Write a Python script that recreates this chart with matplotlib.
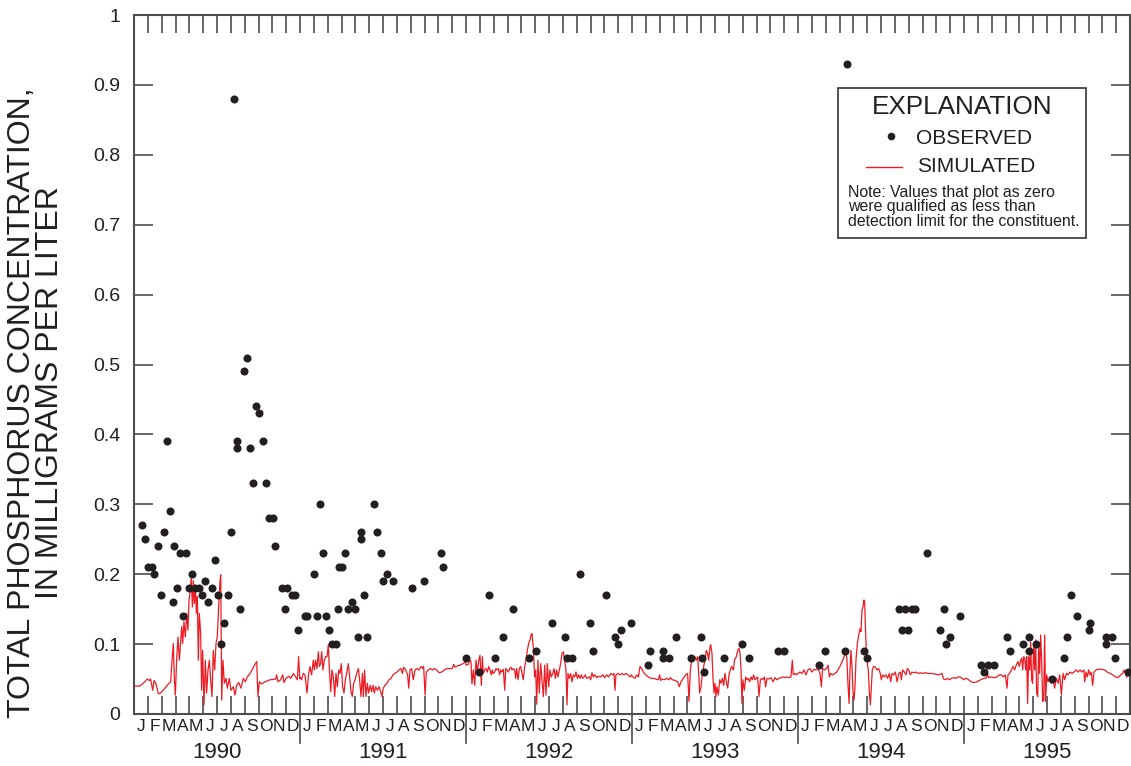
import numpy as np
import matplotlib
matplotlib.use('Agg')
import matplotlib.pyplot as plt
from matplotlib.patches import Rectangle
from matplotlib.lines import Line2D

plt.rcParams['font.family'] = ['Liberation Sans', 'DejaVu Sans']

# axis labels
years = [1990, 1991, 1992, 1993, 1994, 1995]
month_letters = ['J', 'F', 'M', 'A', 'M', 'J', 'J', 'A', 'S', 'O', 'N', 'D']
y_ticks = [0, 0.1, 0.2, 0.3, 0.4, 0.5, 0.6, 0.7, 0.8, 0.9, 1.0]
y_tick_labels = ['0', '0.1', '0.2', '0.3', '0.4', '0.5', '0.6', '0.7', '0.8', '0.9', '1']

# observed samples (decimal year, mg/L)
obs_year = [
    1990.046, 1990.066, 1990.086, 1990.107, 1990.120, 1990.143, 1990.161, 1990.181,
    1990.201, 1990.219, 1990.233, 1990.239, 1990.257, 1990.277, 1990.297, 1990.315,
    1990.333, 1990.349, 1990.367, 1990.393, 1990.411, 1990.430, 1990.448, 1990.470,
    1990.488, 1990.506, 1990.524, 1990.542, 1990.564, 1990.584, 1990.602, 1990.619,
    1990.621, 1990.640, 1990.660, 1990.679, 1990.699, 1990.717, 1990.735, 1990.755,
    1990.775, 1990.793, 1990.815, 1990.836, 1990.851, 1990.890, 1990.910, 1990.923,
    1990.950, 1990.970, 1990.986,
    1991.030, 1991.044, 1991.083, 1991.101, 1991.120, 1991.137, 1991.157, 1991.177,
    1991.195, 1991.215, 1991.231, 1991.233, 1991.255, 1991.273, 1991.291, 1991.311,
    1991.331, 1991.347, 1991.367, 1991.369, 1991.387, 1991.405, 1991.446, 1991.464,
    1991.486, 1991.502, 1991.522, 1991.558, 1991.675, 1991.745, 1991.848, 1991.863,
    1991.998,
    1992.078, 1992.137, 1992.175, 1992.225, 1992.283, 1992.380, 1992.422, 1992.516,
    1992.596, 1992.610, 1992.637, 1992.687, 1992.745, 1992.763, 1992.842, 1992.899,
    1992.917, 1992.936, 1992.996,
    1993.095, 1993.110, 1993.185, 1993.187, 1993.225, 1993.265, 1993.357, 1993.416,
    1993.420, 1993.434, 1993.554, 1993.664, 1993.707, 1993.878, 1993.917,
    1994.127, 1994.164, 1994.281, 1994.295, 1994.396, 1994.417, 1994.607, 1994.627,
    1994.646, 1994.664, 1994.687, 1994.707, 1994.777, 1994.857, 1994.878, 1994.893,
    1994.916, 1994.973,
    1995.104, 1995.120, 1995.145, 1995.181, 1995.259, 1995.279, 1995.355, 1995.390,
    1995.393, 1995.432, 1995.528, 1995.602, 1995.619, 1995.643, 1995.681, 1995.755,
    1995.759, 1995.854, 1995.855, 1995.890, 1995.910, 1995.988,
]
obs_value = [
    0.27, 0.25, 0.21, 0.21, 0.20, 0.24, 0.17, 0.26,
    0.39, 0.29, 0.16, 0.24, 0.18, 0.23, 0.14, 0.23,
    0.18, 0.20, 0.18, 0.18, 0.17, 0.19, 0.16, 0.18,
    0.22, 0.17, 0.10, 0.13, 0.17, 0.26, 0.88, 0.39,
    0.38, 0.15, 0.49, 0.51, 0.38, 0.33, 0.44, 0.43,
    0.39, 0.33, 0.28, 0.28, 0.24, 0.18, 0.15, 0.18,
    0.17, 0.17, 0.12,
    0.14, 0.14, 0.20, 0.14, 0.30, 0.23, 0.14, 0.12,
    0.10, 0.10, 0.15, 0.21, 0.21, 0.23, 0.15, 0.16,
    0.15, 0.11, 0.26, 0.25, 0.17, 0.11, 0.30, 0.26,
    0.23, 0.19, 0.20, 0.19, 0.18, 0.19, 0.23, 0.21,
    0.08,
    0.06, 0.17, 0.08, 0.11, 0.15, 0.08, 0.09, 0.13,
    0.11, 0.08, 0.08, 0.20, 0.13, 0.09, 0.17, 0.11,
    0.10, 0.12, 0.13,
    0.07, 0.09, 0.08, 0.09, 0.08, 0.11, 0.08, 0.11,
    0.08, 0.06, 0.08, 0.10, 0.08, 0.09, 0.09,
    0.07, 0.09, 0.09, 0.93, 0.09, 0.08, 0.15, 0.12,
    0.15, 0.12, 0.15, 0.15, 0.23, 0.12, 0.15, 0.10,
    0.11, 0.14,
    0.07, 0.06, 0.07, 0.07, 0.11, 0.09, 0.10, 0.09,
    0.11, 0.10, 0.05, 0.08, 0.11, 0.17, 0.14, 0.12,
    0.13, 0.11, 0.10, 0.11, 0.08, 0.06,
]

# simulated daily concentration, (month of year, mg/L) per year
sim_1990 = [
    (0.00, 0.040), (0.43, 0.040), (0.72, 0.045), (0.96, 0.050), (1.11, 0.048), (1.20, 0.050),
    (1.35, 0.034), (1.45, 0.048), (1.59, 0.043), (1.76, 0.029), (1.93, 0.030), (2.24, 0.037),
    (2.48, 0.043), (2.65, 0.046), (2.75, 0.077), (2.84, 0.101), (2.92, 0.049), (2.99, 0.027),
    (3.08, 0.077), (3.18, 0.110), (3.28, 0.077), (3.35, 0.096), (3.45, 0.125), (3.52, 0.101),
    (3.61, 0.132), (3.71, 0.110), (3.81, 0.144), (3.90, 0.120), (3.98, 0.163), (4.07, 0.177),
    (4.14, 0.196), (4.22, 0.153), (4.29, 0.191), (4.36, 0.158), (4.43, 0.184), (4.51, 0.144),
    (4.58, 0.168), (4.65, 0.077), (4.72, 0.144), (4.82, 0.115), (4.89, 0.034), (4.96, 0.091),
    (5.06, 0.013), (5.16, 0.077), (5.25, 0.030), (5.35, 0.063), (5.45, 0.077), (5.54, 0.049),
    (5.64, 0.025), (5.73, 0.091), (5.83, 0.063), (5.93, 0.101), (6.02, 0.110), (6.12, 0.153),
    (6.22, 0.191), (6.27, 0.199), (6.34, 0.020), (6.43, 0.077), (6.53, 0.044), (6.65, 0.051),
    (6.75, 0.037), (6.89, 0.051), (7.01, 0.034), (7.18, 0.039), (7.30, 0.027), (7.42, 0.041),
    (7.57, 0.045), (7.73, 0.037), (7.90, 0.051), (8.05, 0.046), (8.19, 0.053), (8.39, 0.058),
    (8.58, 0.065), (8.77, 0.072), (8.87, 0.075), (8.96, 0.025), (9.06, 0.046), (9.23, 0.043),
    (9.47, 0.046), (9.83, 0.049), (10.24, 0.050), (10.31, 0.056), (10.41, 0.046), (10.60, 0.049),
    (10.75, 0.056), (10.84, 0.045), (10.99, 0.051), (11.18, 0.054), (11.33, 0.051), (11.52, 0.058),
    (11.69, 0.053), (11.81, 0.049), (11.90, 0.082), (11.98, 0.051),
]
sim_1991 = [
    (0.00, 0.053), (0.12, 0.049), (0.24, 0.058), (0.36, 0.056), (0.51, 0.030), (0.60, 0.053),
    (0.72, 0.068), (0.84, 0.056), (0.96, 0.077), (1.04, 0.063), (1.13, 0.077), (1.23, 0.065),
    (1.33, 0.089), (1.40, 0.068), (1.49, 0.072), (1.57, 0.089), (1.66, 0.063), (1.76, 0.077),
    (1.86, 0.082), (1.95, 0.082), (2.05, 0.099), (2.12, 0.065), (2.22, 0.032), (2.31, 0.063),
    (2.41, 0.053), (2.51, 0.025), (2.60, 0.058), (2.70, 0.039), (2.80, 0.063), (2.89, 0.058),
    (2.99, 0.072), (3.08, 0.039), (3.18, 0.030), (3.28, 0.049), (3.37, 0.058), (3.49, 0.072),
    (3.59, 0.053), (3.69, 0.032), (3.78, 0.025), (3.88, 0.044), (3.98, 0.049), (4.10, 0.058),
    (4.22, 0.065), (4.31, 0.049), (4.41, 0.025), (4.51, 0.058), (4.58, 0.025), (4.67, 0.063),
    (4.77, 0.025), (4.87, 0.044), (4.96, 0.030), (5.08, 0.041), (5.18, 0.032), (5.28, 0.041),
    (5.37, 0.030), (5.47, 0.039), (5.59, 0.034), (5.71, 0.039), (5.83, 0.032), (5.93, 0.025),
    (6.02, 0.037), (6.14, 0.041), (6.29, 0.044), (6.43, 0.049), (6.58, 0.051), (6.72, 0.056),
    (6.87, 0.058), (7.01, 0.060), (7.16, 0.063), (7.30, 0.065), (7.40, 0.058), (7.49, 0.067),
    (7.64, 0.063), (7.78, 0.056), (7.86, 0.037), (7.95, 0.063), (8.07, 0.065), (8.19, 0.049),
    (8.31, 0.063), (8.46, 0.065), (8.60, 0.063), (8.75, 0.068), (8.87, 0.065), (8.94, 0.068),
    (9.04, 0.027), (9.13, 0.060), (9.28, 0.063), (9.42, 0.065), (9.57, 0.063), (9.71, 0.065),
    (9.88, 0.063), (10.05, 0.059), (10.24, 0.060), (10.43, 0.063), (10.63, 0.065), (10.82, 0.065),
    (11.01, 0.065), (11.11, 0.071), (11.20, 0.067), (11.40, 0.069), (11.59, 0.070), (11.78, 0.072),
    (11.98, 0.075),
]
sim_1992 = [
    (0.00, 0.070), (0.17, 0.071), (0.29, 0.077), (0.36, 0.075), (0.43, 0.043), (0.53, 0.063),
    (0.63, 0.041), (0.72, 0.077), (0.82, 0.060), (0.92, 0.077), (1.01, 0.084), (1.11, 0.041),
    (1.18, 0.082), (1.25, 0.058), (1.35, 0.063), (1.45, 0.065), (1.54, 0.060), (1.64, 0.068),
    (1.73, 0.063), (1.83, 0.056), (1.90, 0.063), (1.98, 0.058), (2.07, 0.060), (2.17, 0.065),
    (2.24, 0.063), (2.34, 0.065), (2.43, 0.056), (2.51, 0.063), (2.60, 0.060), (2.70, 0.064),
    (2.80, 0.034), (2.87, 0.065), (2.96, 0.063), (3.06, 0.060), (3.16, 0.065), (3.25, 0.067),
    (3.33, 0.063), (3.42, 0.065), (3.52, 0.063), (3.59, 0.051), (3.66, 0.065), (3.76, 0.049),
    (3.86, 0.065), (3.95, 0.068), (4.05, 0.058), (4.14, 0.049), (4.24, 0.068), (4.34, 0.077),
    (4.43, 0.091), (4.53, 0.101), (4.63, 0.106), (4.70, 0.113), (4.77, 0.115), (4.87, 0.094),
    (4.96, 0.053), (5.04, 0.063), (5.11, 0.014), (5.20, 0.077), (5.30, 0.030), (5.40, 0.072),
    (5.49, 0.049), (5.59, 0.025), (5.69, 0.070), (5.78, 0.027), (5.88, 0.072), (5.98, 0.039),
    (6.07, 0.063), (6.17, 0.053), (6.27, 0.058), (6.36, 0.065), (6.46, 0.051), (6.55, 0.063),
    (6.65, 0.053), (6.75, 0.063), (6.84, 0.072), (6.94, 0.087), (7.04, 0.089), (7.13, 0.077),
    (7.23, 0.063), (7.30, 0.013), (7.37, 0.058), (7.47, 0.051), (7.57, 0.058), (7.66, 0.046),
    (7.76, 0.056), (7.86, 0.053), (7.95, 0.060), (8.05, 0.051), (8.14, 0.056), (8.24, 0.051),
    (8.34, 0.056), (8.43, 0.051), (8.53, 0.053), (8.63, 0.056), (8.72, 0.051), (8.82, 0.052),
    (8.92, 0.053), (9.01, 0.049), (9.11, 0.059), (9.20, 0.053), (9.30, 0.056), (9.45, 0.052),
    (9.54, 0.054), (9.73, 0.053), (9.88, 0.056), (10.02, 0.052), (10.17, 0.056), (10.31, 0.053),
    (10.46, 0.058), (10.60, 0.056), (10.70, 0.058), (10.77, 0.034), (10.84, 0.056), (10.99, 0.058),
    (11.13, 0.056), (11.28, 0.058), (11.42, 0.056), (11.57, 0.058), (11.71, 0.056), (11.86, 0.053),
    (11.98, 0.056),
]
sim_1993 = [
    (0.00, 0.054), (0.22, 0.051), (0.34, 0.056), (0.46, 0.053), (0.58, 0.068), (0.70, 0.065),
    (0.82, 0.060), (0.99, 0.056), (1.18, 0.053), (1.37, 0.051), (1.57, 0.051), (1.71, 0.050),
    (1.90, 0.049), (2.00, 0.056), (2.07, 0.048), (2.19, 0.050), (2.34, 0.049), (2.51, 0.051),
    (2.65, 0.049), (2.77, 0.052), (2.92, 0.049), (3.11, 0.048), (3.30, 0.046), (3.42, 0.039),
    (3.54, 0.046), (3.71, 0.051), (3.88, 0.056), (4.02, 0.058), (4.12, 0.018), (4.22, 0.063),
    (4.31, 0.077), (4.43, 0.080), (4.55, 0.082), (4.65, 0.077), (4.75, 0.082), (4.82, 0.058),
    (4.89, 0.030), (4.99, 0.039), (5.08, 0.056), (5.18, 0.068), (5.28, 0.077), (5.37, 0.091),
    (5.46, 0.087), (5.54, 0.077), (5.64, 0.096), (5.69, 0.099), (5.78, 0.087), (5.86, 0.049),
    (5.93, 0.030), (6.00, 0.044), (6.07, 0.025), (6.14, 0.039), (6.24, 0.027), (6.34, 0.049),
    (6.43, 0.044), (6.53, 0.051), (6.63, 0.041), (6.72, 0.058), (6.82, 0.046), (6.92, 0.037),
    (7.01, 0.056), (7.11, 0.063), (7.20, 0.068), (7.33, 0.063), (7.41, 0.077), (7.54, 0.082),
    (7.64, 0.091), (7.74, 0.094), (7.81, 0.087), (7.88, 0.063), (7.95, 0.015), (8.02, 0.049),
    (8.12, 0.034), (8.22, 0.053), (8.31, 0.049), (8.41, 0.051), (8.51, 0.046), (8.60, 0.053),
    (8.70, 0.049), (8.79, 0.056), (8.89, 0.049), (8.99, 0.051), (9.08, 0.053), (9.18, 0.025),
    (9.28, 0.049), (9.37, 0.051), (9.47, 0.049), (9.57, 0.053), (9.66, 0.039), (9.76, 0.051),
    (9.90, 0.050), (10.05, 0.052), (10.19, 0.046), (10.34, 0.052), (10.48, 0.049), (10.63, 0.051),
    (10.77, 0.052), (10.92, 0.053), (11.06, 0.052), (11.20, 0.053), (11.35, 0.052), (11.49, 0.053),
    (11.59, 0.077), (11.66, 0.056), (11.78, 0.058), (11.90, 0.056), (11.98, 0.058),
]
sim_1994 = [
    (0.00, 0.058), (0.14, 0.060), (0.29, 0.058), (0.43, 0.063), (0.58, 0.056), (0.72, 0.063),
    (0.87, 0.065), (1.01, 0.060), (1.16, 0.064), (1.30, 0.063), (1.45, 0.065), (1.59, 0.058),
    (1.69, 0.039), (1.78, 0.065), (1.93, 0.063), (2.07, 0.065), (2.17, 0.070), (2.27, 0.053),
    (2.36, 0.058), (2.51, 0.056), (2.65, 0.058), (2.80, 0.060), (2.94, 0.065), (3.08, 0.070),
    (3.23, 0.077), (3.37, 0.084), (3.47, 0.089), (3.54, 0.077), (3.61, 0.044), (3.69, 0.015),
    (3.76, 0.063), (3.83, 0.091), (3.90, 0.068), (3.98, 0.030), (4.05, 0.020), (4.12, 0.039),
    (4.19, 0.077), (4.29, 0.101), (4.39, 0.113), (4.48, 0.122), (4.55, 0.118), (4.63, 0.149),
    (4.70, 0.153), (4.77, 0.163), (4.82, 0.160), (4.87, 0.125), (4.94, 0.091), (5.01, 0.072),
    (5.08, 0.063), (5.16, 0.030), (5.23, 0.013), (5.30, 0.039), (5.37, 0.063), (5.47, 0.068),
    (5.59, 0.067), (5.71, 0.063), (5.83, 0.065), (5.95, 0.058), (6.02, 0.049), (6.12, 0.056),
    (6.24, 0.053), (6.36, 0.056), (6.48, 0.051), (6.60, 0.058), (6.70, 0.046), (6.80, 0.058),
    (6.92, 0.056), (7.04, 0.060), (7.16, 0.046), (7.28, 0.058), (7.40, 0.060), (7.47, 0.049),
    (7.57, 0.063), (7.69, 0.060), (7.81, 0.056), (7.90, 0.065), (8.00, 0.063), (8.12, 0.056),
    (8.24, 0.060), (8.39, 0.059), (8.53, 0.060), (8.67, 0.058), (8.84, 0.059), (9.01, 0.058),
    (9.20, 0.059), (9.45, 0.058), (9.69, 0.058), (9.93, 0.057), (10.17, 0.056), (10.41, 0.058),
    (10.53, 0.050), (10.65, 0.049), (10.80, 0.051), (10.94, 0.049), (11.08, 0.051), (11.25, 0.052),
    (11.42, 0.051), (11.57, 0.053), (11.71, 0.053), (11.86, 0.051), (11.98, 0.049),
]
sim_1995 = [
    (0.00, 0.050), (0.17, 0.051), (0.34, 0.049), (0.53, 0.046), (0.72, 0.045), (0.92, 0.046),
    (1.11, 0.048), (1.30, 0.050), (1.49, 0.051), (1.64, 0.052), (1.69, 0.058), (1.78, 0.052),
    (1.98, 0.053), (2.17, 0.052), (2.36, 0.053), (2.55, 0.056), (2.70, 0.056), (2.84, 0.053),
    (2.99, 0.056), (3.11, 0.037), (3.18, 0.056), (3.30, 0.058), (3.42, 0.063), (3.54, 0.068),
    (3.66, 0.063), (3.78, 0.070), (3.90, 0.075), (4.00, 0.068), (4.10, 0.077), (4.17, 0.080),
    (4.24, 0.063), (4.31, 0.082), (4.39, 0.080), (4.46, 0.063), (4.53, 0.082), (4.60, 0.015),
    (4.67, 0.082), (4.75, 0.063), (4.82, 0.103), (4.89, 0.049), (4.96, 0.044), (5.04, 0.101),
    (5.11, 0.063), (5.18, 0.106), (5.25, 0.030), (5.33, 0.025), (5.40, 0.096), (5.47, 0.058),
    (5.54, 0.113), (5.61, 0.077), (5.69, 0.018), (5.76, 0.020), (5.83, 0.113), (5.90, 0.018),
    (5.98, 0.056), (6.07, 0.046), (6.19, 0.053), (6.31, 0.044), (6.43, 0.051), (6.55, 0.037),
    (6.67, 0.051), (6.80, 0.044), (6.92, 0.056), (7.04, 0.027), (7.16, 0.058), (7.28, 0.049),
    (7.40, 0.058), (7.52, 0.056), (7.66, 0.060), (7.81, 0.058), (7.95, 0.060), (8.10, 0.063),
    (8.24, 0.060), (8.39, 0.063), (8.53, 0.060), (8.67, 0.063), (8.72, 0.046), (8.82, 0.060),
    (8.92, 0.053), (9.01, 0.063), (9.11, 0.056), (9.20, 0.060), (9.30, 0.041), (9.40, 0.060),
    (9.54, 0.063), (9.69, 0.064), (9.83, 0.064), (9.98, 0.064), (10.17, 0.063), (10.36, 0.060),
    (10.55, 0.058), (10.75, 0.056), (10.94, 0.053), (11.13, 0.052), (11.33, 0.056), (11.47, 0.058),
    (11.57, 0.063), (11.66, 0.058), (11.76, 0.053), (11.86, 0.056), (12.00, 0.058),
]

sim_by_year = {1990: sim_1990, 1991: sim_1991, 1992: sim_1992,
               1993: sim_1993, 1994: sim_1994, 1995: sim_1995}
sim_t = []
sim_v = []
for yr in years:
    for m, v in sim_by_year[yr]:
        sim_t.append(yr + m / 12.0)
        sim_v.append(v)

W, H = 1131, 766
fig = plt.figure(figsize=(W / 100, H / 100), dpi=100)
ax = fig.add_axes([134 / W, 1 - 714 / H, 996 / W, 699 / H])

axis_col = '#4d4d4d'
text_col = '#231f20'

ax.plot(sim_t, sim_v, color='#ed1c24', lw=0.9, zorder=2)
ax.plot(obs_year, obs_value, 'o', color=text_col, ms=5.8, mec='none', zorder=3, clip_on=False)

ax.set_xlim(1990, 1996)
ax.set_ylim(0, 1)

for s in ax.spines.values():
    s.set_color(axis_col)
    s.set_linewidth(1.5)

# month boundaries as ticks, month letters centred on each month
month_edges = 1990 + np.arange(73) / 12.0
month_mid = 1990 + (np.arange(72) + 0.5) / 12.0
ax.set_xticks(month_edges)
ax.set_xticklabels([''] * len(month_edges))
ax.set_xticks(month_mid, minor=True)
ax.set_xticklabels(month_letters * len(years), minor=True)
ax.xaxis.remove_overlapping_locs = False

ax.set_yticks(y_ticks)
ax.set_yticklabels(y_tick_labels)

ax.tick_params(axis='x', which='major', direction='in', length=13, width=1.2,
               color=axis_col, top=True, bottom=True)
ax.tick_params(axis='x', which='minor', length=0, pad=3.5, labelsize=12.5,
               labelcolor=text_col, top=False)
ax.tick_params(axis='y', which='major', direction='in', length=13.5, width=1.2,
               color=axis_col, left=True, right=True, pad=10, labelsize=14,
               labelcolor=text_col)

# year separators below the axis and year labels
xt = ax.get_xaxis_transform()
for yr in years[1:]:
    ax.plot([yr, yr], [0, -29 / 699], color=axis_col, lw=1.2, transform=xt, clip_on=False)
for yr in years:
    ax.text(yr + 0.5, -39 / 699, str(yr), transform=xt, ha='center', va='center',
            fontsize=16, color=text_col)

# y-axis title
fig.text(22 / W, 1 - 403 / H, 'TOTAL PHOSPHORUS CONCENTRATION,', rotation=90,
         ha='center', va='center', fontsize=23, color=text_col)
fig.text(50 / W, 1 - 393 / H, 'IN MILLIGRAMS PER LITER', rotation=90,
         ha='center', va='center', fontsize=23, color=text_col)

# explanation box
def ax_x(px):
    return (px - 134) / 996.0

def ax_y(py):
    return (714 - py) / 699.0

ax.add_patch(Rectangle((ax_x(838), ax_y(238)), ax_x(1086) - ax_x(838), ax_y(88) - ax_y(238),
                       transform=ax.transAxes, facecolor='white', edgecolor='#333333',
                       lw=1.2, zorder=5))
ax.text(ax_x(962), ax_y(107), 'EXPLANATION', transform=ax.transAxes, ha='center',
        va='center', fontsize=18.8, color=text_col, zorder=6)
ax.add_line(Line2D([ax_x(891)], [ax_y(136)], marker='o', ms=5.5, color=text_col, mec='none',
                   transform=ax.transAxes, zorder=6))
ax.text(ax_x(916), ax_y(138), 'OBSERVED', transform=ax.transAxes, ha='left', va='center',
        fontsize=15, color=text_col, zorder=6)
ax.add_line(Line2D([ax_x(866), ax_x(902)], [ax_y(167), ax_y(167)], color='#ed1c24', lw=1,
                   transform=ax.transAxes, zorder=6))
ax.text(ax_x(917), ax_y(167), 'SIMULATED', transform=ax.transAxes, ha='left', va='center',
        fontsize=15, color=text_col, zorder=6)
note_lines = ['Note: Values that plot as zero',
              'were qualified as less than',
              'detection limit for the constituent.']
for i, line in enumerate(note_lines):
    ax.text(ax_x(848), ax_y(192 + 15 * i), line, transform=ax.transAxes, ha='left',
            va='center', fontsize=11.4, color=text_col, zorder=6)

fig.savefig('out.png', dpi=100)
